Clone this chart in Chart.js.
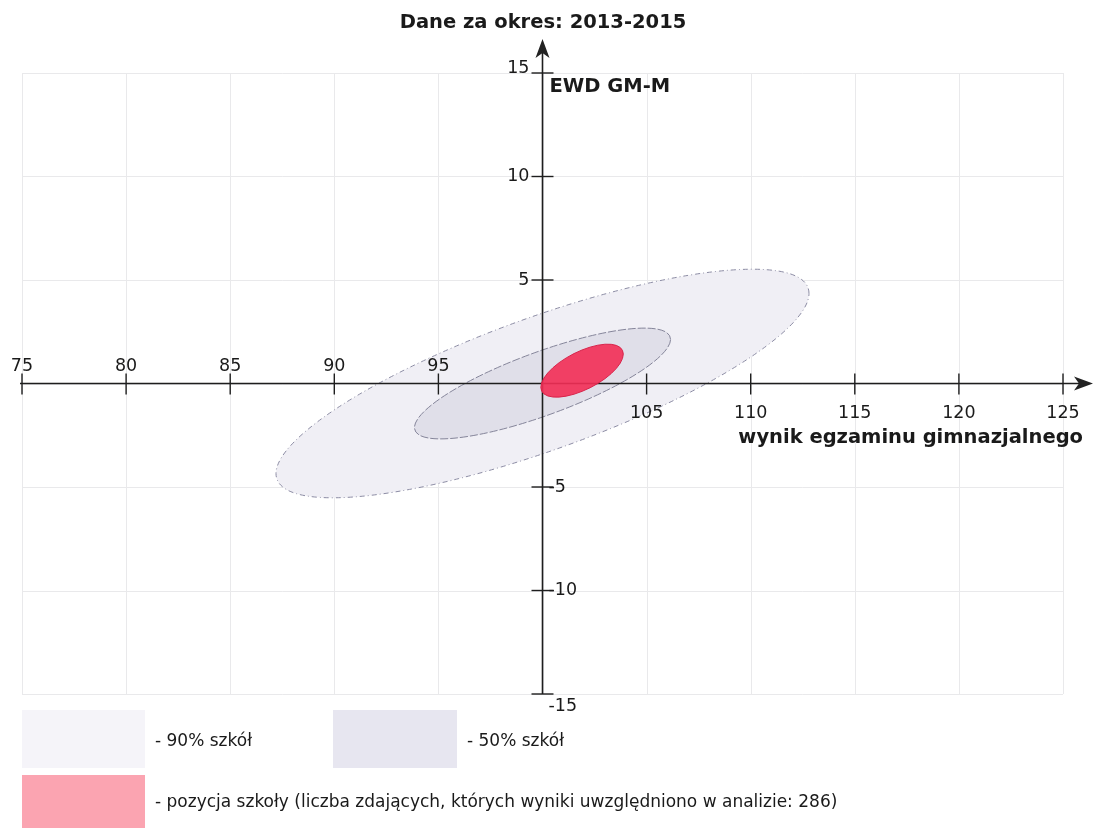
<!DOCTYPE html>
<html>
<head>
<meta charset="utf-8">
<script src="https://cdn.jsdelivr.net/npm/chart.js@4/dist/chart.umd.min.js"></script>
<style>
  html, body { margin: 0; padding: 0; background: #ffffff; }
  #wrap { width: 1094px; height: 828px; position: relative; }
</style>
</head>
<body>
<div id="wrap"><canvas id="c" width="1094" height="828"></canvas></div>
<script>
// ---- data ----
const titleText = 'Dane za okres: 2013-2015';
const xAxisTitle = 'wynik egzaminu gimnazjalnego';
const yAxisTitle = 'EWD GM-M';
const xTicks = [75, 80, 85, 90, 95, 100, 105, 110, 115, 120, 125];
const yTicks = [15, 10, 5, 0, -5, -10, -15];
const ellipseNames = ['90% szkół', '50% szkół', 'pozycja szkoły'];
const centerX = [100.0, 100.0, 101.9];
const centerY = [0.0, 0.0, 0.62];
const rightmostDX = [12.8, 6.15, 1.98];   // offset of the right-most point
const rightmostDY = [4.35, 2.13, 0.80];
const halfHeightAtCenter = [3.4, 1.62, 1.0];
const legendTexts = ['- 90% szkół', '- 50% szkół', '- pozycja szkoły (liczba zdających, których wyniki uwzględniono w analizie: 286)'];

const fills = ['#f0eff5', '#e0dfe9', 'rgba(243,45,85,0.9)'];
const strokes = ['#8c8ca4', '#85859a', '#d8234a'];
const dashes = [[5, 3, 1, 3], [8, 2], []];
const legendFills = ['#f5f4f9', '#e7e6f0', '#fba4b1'];

const FONT = '"DejaVu Sans", sans-serif';

function ellipsePath(ctx, xs, ys, i) {
  const cx = xs.getPixelForValue(centerX[i]);
  const cy = ys.getPixelForValue(centerY[i]);
  const ux = xs.getPixelForValue(centerX[i] + rightmostDX[i]) - cx;
  const uy = ys.getPixelForValue(centerY[i] + rightmostDY[i]) - cy;
  const vy = ys.getPixelForValue(centerY[i] + halfHeightAtCenter[i]) - cy;
  ctx.save();
  ctx.transform(ux, uy, 0, vy, cx, cy);
  ctx.beginPath();
  ctx.arc(0, 0, 1, 0, Math.PI * 2);
  ctx.restore();
}

function drawEllipse(ctx, xs, ys, i) {
  ctx.save();
  ellipsePath(ctx, xs, ys, i);
  ctx.fillStyle = fills[i];
  ctx.fill();
  ctx.setLineDash(dashes[i]);
  ctx.lineWidth = 1;
  ctx.strokeStyle = strokes[i];
  ctx.stroke();
  ctx.restore();
}

function arrowHead(ctx, tipX, tipY, dir) {
  ctx.save();
  ctx.translate(tipX, tipY);
  if (dir === 'right') ctx.rotate(Math.PI / 2);
  ctx.beginPath();
  ctx.moveTo(0, 0);
  ctx.lineTo(7, 19);
  ctx.lineTo(0, 14);
  ctx.lineTo(-7, 19);
  ctx.closePath();
  ctx.fillStyle = '#222';
  ctx.fill();
  ctx.restore();
}

const ewdPlugin = {
  id: 'ewd',
  beforeDraw(chart) {
    const ctx = chart.ctx;
    ctx.save();
    ctx.fillStyle = '#ffffff';
    ctx.fillRect(0, 0, chart.width, chart.height);
    ctx.restore();
  },
  beforeDatasetsDraw(chart) {
    const ctx = chart.ctx;
    const xs = chart.scales.x, ys = chart.scales.y;
    const x0 = xs.getPixelForValue(xTicks[0]);
    const x1 = xs.getPixelForValue(xTicks[xTicks.length - 1]);
    const yTop = ys.getPixelForValue(yTicks[0]);
    const yBot = ys.getPixelForValue(yTicks[yTicks.length - 1]);
    // grid
    ctx.save();
    ctx.strokeStyle = '#e9e9eb';
    ctx.lineWidth = 1;
    xTicks.forEach(v => {
      const p = Math.round(xs.getPixelForValue(v)) + 0.5;
      ctx.beginPath(); ctx.moveTo(p, yTop); ctx.lineTo(p, yBot); ctx.stroke();
    });
    yTicks.forEach(v => {
      const p = Math.round(ys.getPixelForValue(v)) + 0.5;
      ctx.beginPath(); ctx.moveTo(x0, p); ctx.lineTo(x1, p); ctx.stroke();
    });
    ctx.restore();
    // ellipses 90% and 50%
    drawEllipse(ctx, xs, ys, 0);
    drawEllipse(ctx, xs, ys, 1);
    // axes
    const ax = xs.getPixelForValue(100);
    const ay = ys.getPixelForValue(0);
    ctx.save();
    ctx.strokeStyle = '#1e1e1e';
    ctx.lineWidth = 1.6;
    ctx.beginPath(); ctx.moveTo(x0 - 2, ay); ctx.lineTo(chart.width - 8, ay); ctx.stroke();
    ctx.beginPath(); ctx.moveTo(ax, yBot); ctx.lineTo(ax, 48); ctx.stroke();
    arrowHead(ctx, chart.width - 1, ay, 'right');
    arrowHead(ctx, ax, 39, 'up');
    ctx.lineWidth = 1.4;
    xTicks.forEach(v => {
      if (v === 100) return;
      const p = xs.getPixelForValue(v);
      ctx.beginPath(); ctx.moveTo(p, ay - 10); ctx.lineTo(p, ay + 11); ctx.stroke();
    });
    yTicks.forEach(v => {
      if (v === 0) return;
      const p = ys.getPixelForValue(v);
      ctx.beginPath(); ctx.moveTo(ax - 11, p); ctx.lineTo(ax + 11, p); ctx.stroke();
    });
    ctx.restore();
    // school ellipse
    drawEllipse(ctx, xs, ys, 2);
  },
  afterDraw(chart) {
    const ctx = chart.ctx;
    const xs = chart.scales.x, ys = chart.scales.y;
    const ax = xs.getPixelForValue(100);
    const ay = ys.getPixelForValue(0);
    ctx.save();
    ctx.fillStyle = '#1a1a1a';
    // tick labels
    ctx.font = '17.5px ' + FONT;
    ctx.textAlign = 'center';
    xTicks.forEach(v => {
      if (v === 100) return;
      const p = xs.getPixelForValue(v);
      if (v < 100) { ctx.textBaseline = 'alphabetic'; ctx.fillText(String(v), p, ay - 13); }
      else { ctx.textBaseline = 'top'; ctx.fillText(String(v), p, ay + 21); }
    });
    yTicks.forEach((v, idx) => {
      if (v === 0) return;
      const p = ys.getPixelForValue(v);
      let base = 'middle', yy = p;
      if (idx === 0) { base = 'alphabetic'; yy = p; }
      if (idx === yTicks.length - 1) { base = 'top'; yy = p + 4; }
      ctx.textBaseline = base;
      if (v > 0) { ctx.textAlign = 'right'; ctx.fillText(String(v), ax - 13, yy); }
      else { ctx.textAlign = 'left'; ctx.fillText(String(v), ax + 6, yy); }
    });
    // axis titles
    ctx.font = 'bold 19.5px ' + FONT;
    ctx.textAlign = 'left';
    ctx.textBaseline = 'alphabetic';
    ctx.fillText(yAxisTitle, ax + 7, 92);
    ctx.textAlign = 'right';
    ctx.fillText(xAxisTitle, 1083, 443);
    // title
    ctx.textAlign = 'center';
    ctx.fillText(titleText, 543, 28);
    // legend
    const boxes = [[22, 710, 123, 58], [333, 710, 124, 58], [22, 775, 123, 53]];
    const textPos = [[155, 742], [467, 742], [155, 803]];
    ctx.font = '17px ' + FONT;
    ctx.textAlign = 'left';
    ctx.textBaseline = 'middle';
    boxes.forEach((b, i) => {
      ctx.fillStyle = legendFills[i];
      ctx.fillRect(b[0], b[1], b[2], b[3]);
      ctx.fillStyle = '#1a1a1a';
      ctx.fillText(legendTexts[i], textPos[i][0], textPos[i][1]);
    });
    ctx.restore();
  }
};

new Chart(document.getElementById('c'), {
  type: 'scatter',
  data: {
    datasets: ellipseNames.map((n, i) => ({
      label: n,
      data: [{ x: centerX[i], y: centerY[i] }],
      pointRadius: 0,
      showLine: false
    }))
  },
  options: {
    responsive: false,
    devicePixelRatio: 1,
    animation: false,
    layout: { padding: { left: 22, right: 31, top: 73, bottom: 134 } },
    scales: {
      x: { type: 'linear', min: 75, max: 125, display: false },
      y: { type: 'linear', min: -15, max: 15, display: false }
    },
    plugins: { legend: { display: false }, tooltip: { enabled: false }, title: { display: false } }
  },
  plugins: [ewdPlugin]
});
</script>
</body>
</html>
